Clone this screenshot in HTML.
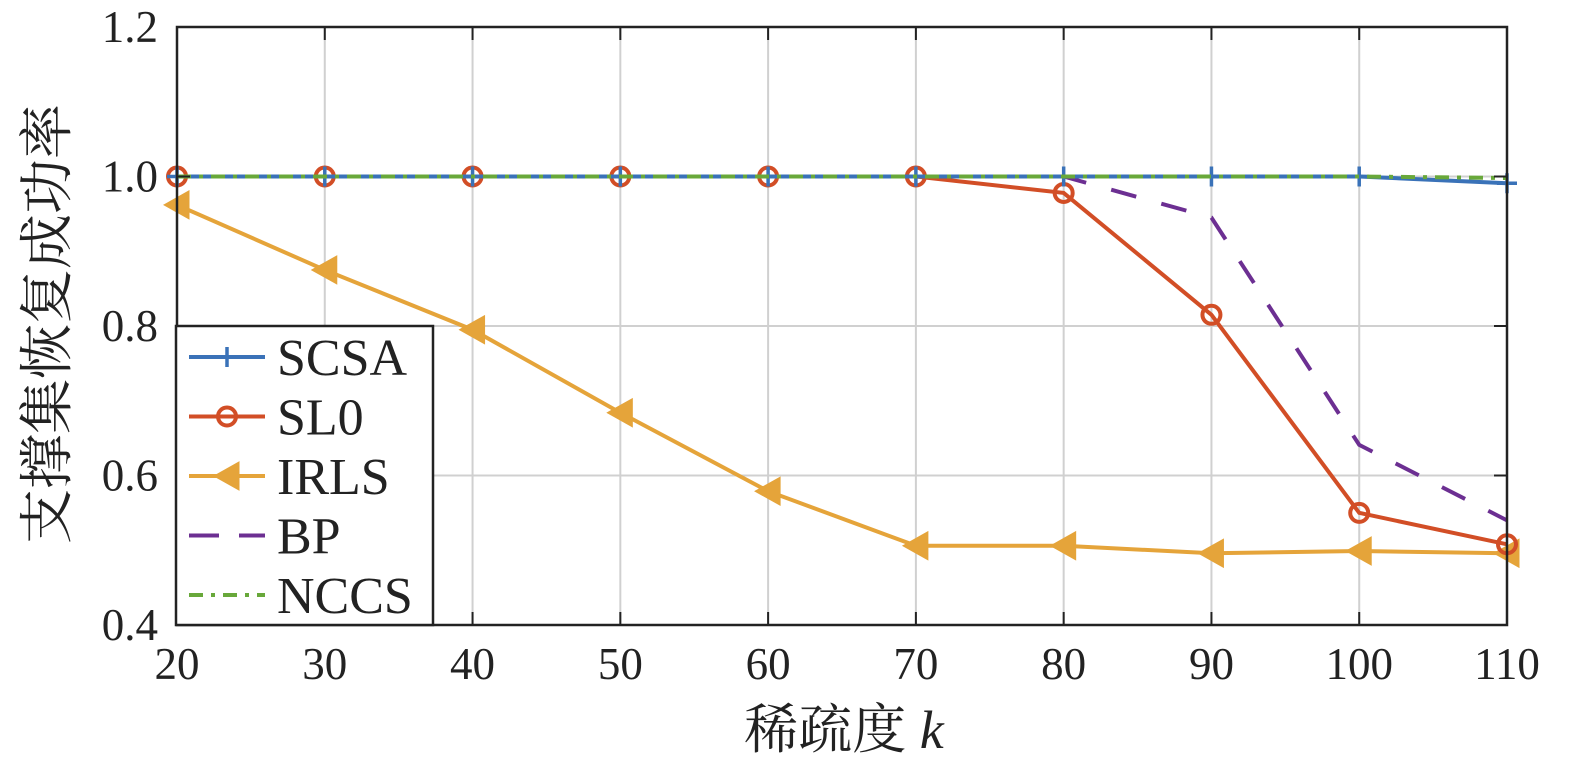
<!DOCTYPE html>
<html><head><meta charset="utf-8"><style>
body{margin:0;background:#fff}
svg text{font-family:"Liberation Serif","Noto Serif CJK SC",serif;fill:#222}
</style></head><body>
<svg width="1575" height="762" viewBox="0 0 1575 762">
<g id="grid"></g>
<g id="series"></g>
<g id="axes"></g>
<g id="legend"></g>
<text x="844" y="748" text-anchor="middle" font-size="54">稀疏度 <tspan font-style="italic">k</tspan></text>
<text transform="translate(66,324) rotate(-90)" text-anchor="middle" font-size="55">支撑集恢复成功率</text>
</svg>
<script>
const categories=[20,30,40,50,60,70,80,90,100,110];
const scsa=[1,1,1,1,1,1,1,1,1,0.991];
const sl0=[1,1,1,1,1,1,0.978,0.815,0.55,0.508];
const irls=[0.962,0.875,0.795,0.684,0.579,0.506,0.506,0.496,0.499,0.496];
const bp=[1,1,1,1,1,1,1,0.945,0.641,0.54];
const nccs=[1,1,1,1,1,1,1,1,1,0.998];
const xTicks=[20,30,40,50,60,70,80,90,100,110];
const yTicks=[0.4,0.6,0.8,1.0,1.2];
const yTickLabels=["0.4","0.6","0.8","1.0","1.2"];
const X0=177,X1=1507,Y0=625,Y1=27;
const xs=v=>X0+(v-20)/90*(X1-X0);
const ys=v=>Y0-(v-0.4)/0.8*(Y0-Y1);
const NS="http://www.w3.org/2000/svg";
function mk(tag,attrs,parent){const e=document.createElementNS(NS,tag);for(const k in attrs)e.setAttribute(k,attrs[k]);parent.appendChild(e);return e;}
const grid=document.getElementById('grid'),axes=document.getElementById('axes'),ser=document.getElementById('series'),leg=document.getElementById('legend');
xTicks.forEach(t=>{const x=xs(t);
 let g=mk('line',{x1:x,x2:x,y1:Y0,y2:Y1,stroke:'#d0d0d0','stroke-width':2},grid);
 mk('line',{x1:x,x2:x,y1:Y0,y2:Y0-13,stroke:'#222','stroke-width':2},axes);
 mk('line',{x1:x,x2:x,y1:Y1,y2:Y1+13,stroke:'#222','stroke-width':2},axes);
 let tx=mk('text',{x:x,y:679,'text-anchor':'middle','font-size':45},axes);tx.textContent=t;
 });
yTicks.forEach((t,i)=>{const y=ys(t);
 let g=mk('line',{x1:X0,x2:X1,y1:y,y2:y,stroke:'#d0d0d0','stroke-width':2},grid);
 mk('line',{x1:X0,x2:X0+13,y1:y,y2:y,stroke:'#222','stroke-width':2},axes);
 mk('line',{x1:X1,x2:X1-13,y1:y,y2:y,stroke:'#222','stroke-width':2},axes);
 let tx=mk('text',{x:158,y:y+15,'text-anchor':'end','font-size':45},axes);tx.textContent=yTickLabels[i];
 });
let fr=mk('rect',{x:X0,y:Y1,width:X1-X0,height:Y0-Y1,fill:'none',stroke:'#222','stroke-width':2.5},axes);

const defs=[
 {name:'SCSA',d:scsa,c:'#3a72b8',dash:'',m:'plus'},
 {name:'SL0',d:sl0,c:'#d24e26',dash:'',m:'circle'},
 {name:'IRLS',d:irls,c:'#e5a43a',dash:'',m:'tri'},
 {name:'BP',d:bp,c:'#6c2f92',dash:'26 26',m:''},
 {name:'NCCS',d:nccs,c:'#68a83a',dash:'14 8 4 8',m:''}];
const order=[2,1,3,0,4];
function marker(m,x,y,c,p){
 if(m==='plus'){mk('path',{d:`M${x-10} ${y}H${x+10}M${x} ${y-10}V${y+10}`,stroke:c,'stroke-width':3.5},p);}
 else if(m==='circle'){mk('circle',{cx:x,cy:y,r:9,fill:'none',stroke:c,'stroke-width':4},p);}
 else if(m==='tri'){mk('path',{d:`M${x-13} ${y}L${x+12} ${y-14}L${x+12} ${y+14}Z`,fill:c,stroke:c,'stroke-width':1},p);}
}
order.forEach(i=>{const s=defs[i];
 const g=mk('g',{},ser);
 const pts=s.d.map((v,j)=>xs(categories[j])+','+ys(v)).join(' ');
 mk('polyline',{points:pts,fill:'none',stroke:s.c,'stroke-width':4,'stroke-dasharray':s.dash},g);
 s.d.forEach((v,j)=>marker(s.m,xs(categories[j]),ys(v),s.c,g));});
let lb=mk('rect',{x:176,y:326,width:257,height:299,fill:'#fff',stroke:'#222','stroke-width':2.5},leg);

defs.forEach((s,i)=>{const y=357+i*59.5;
 const g=mk('g',{},leg);
 mk('line',{x1:189,x2:265,y1:y,y2:y,stroke:s.c,'stroke-width':4,'stroke-dasharray':s.dash==='26 26'?'30 20':s.dash},g);
 marker(s.m,227,y,s.c,g);
 const t=mk('text',{x:277,y:y+18,'font-size':52},g);t.textContent=s.name;});
</script>
</body></html>
